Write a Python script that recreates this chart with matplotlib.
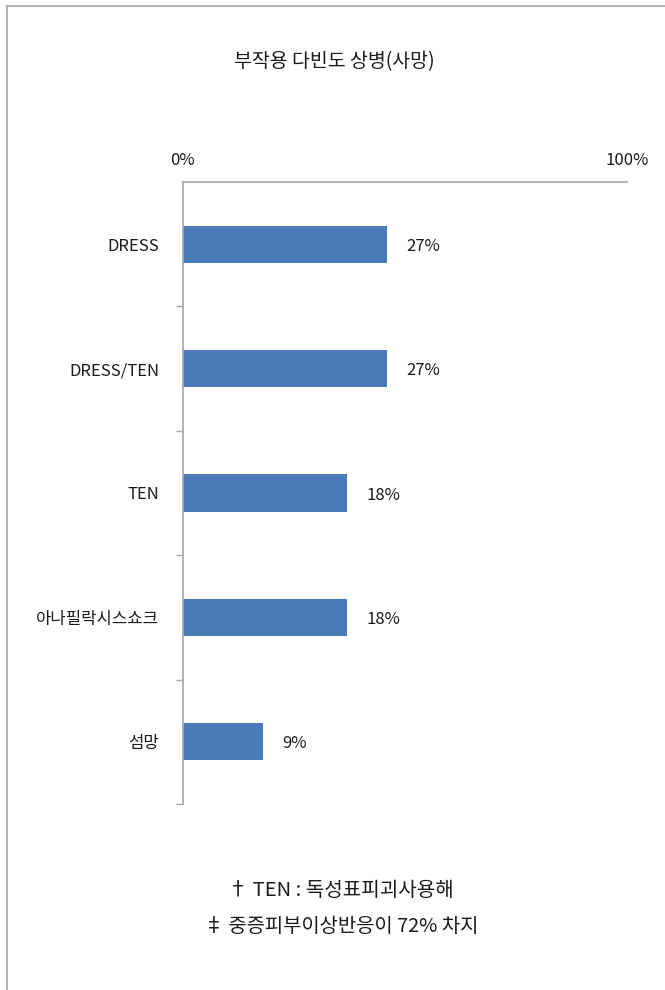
import matplotlib.pyplot as plt
from matplotlib.lines import Line2D

plt.rcParams['font.family'] = ['Noto Sans CJK KR', 'DejaVu Sans']

# 데이터
categories = ['DRESS', 'DRESS/TEN', 'TEN', '아나필락시스쇼크', '섬망']
bar_lengths = [46, 46, 37, 37, 18]          # 그림에서 읽은 막대 길이 (축 기준 %)
value_labels = ['27%', '27%', '18%', '18%', '9%']
x_ticks = [0, 100]
x_tick_labels = ['0%', '100%']

title = '부작용 다빈도 상병(사망)'
notes = ['† TEN : 독성표피괴사용해', '‡ 중증피부이상반응이 72% 차지']

bar_color = '#4a7bb8'
axis_color = '#a6a6a6'
text_color = '#1a1a1a'

fig = plt.figure(figsize=(6.65, 9.9), dpi=100)
ax = fig.add_axes([0.2747, 0.1879, 0.6677, 0.6283])

centers = [i + 0.5 for i in range(len(categories))]
ax.barh(centers, bar_lengths, height=0.30, color=bar_color)

for y, w, lab in zip(centers, bar_lengths, value_labels):
    ax.annotate(lab, (w, y), xytext=(14, -1.5), textcoords='offset points',
                va='center', ha='left', fontsize=12, color=text_color)

ax.set_xlim(0, 100)
ax.set_ylim(len(categories), 0)

# x축: 위쪽 눈금 라벨만
ax.xaxis.tick_top()
ax.set_xticks(x_ticks)
ax.set_xticklabels(x_tick_labels, fontsize=12, color=text_color)
ax.tick_params(axis='x', length=0, pad=9)

# y축: 경계에 눈금, 중앙에 라벨
ax.set_yticks(range(1, len(categories) + 1))
ax.set_yticklabels([])
ax.set_yticks(centers, minor=True)
ax.set_yticklabels(categories, minor=True, fontsize=12, color=text_color)
ax.tick_params(axis='y', which='major', length=5, color=axis_color, width=1)
ax.tick_params(axis='y', which='minor', length=0, pad=17)

for side in ['right', 'bottom']:
    ax.spines[side].set_visible(False)
for side in ['top', 'left']:
    ax.spines[side].set_color(axis_color)
    ax.spines[side].set_linewidth(1.2)

fig.text(0.502, 1 - 62 / 990, title, ha='center', va='center', fontsize=14, color=text_color)
fig.text(0.512, 1 - 890 / 990, notes[0], ha='center', va='center', fontsize=14.5, color=text_color)
fig.text(0.513, 1 - 926 / 990, notes[1], ha='center', va='center', fontsize=14.3, color=text_color)

# 바깥 테두리 (위, 왼쪽)
fig.add_artist(Line2D([7 / 665, 1], [1 - 6 / 990, 1 - 6 / 990], color=axis_color, lw=1.2))
fig.add_artist(Line2D([7 / 665, 7 / 665], [0, 1 - 6 / 990], color=axis_color, lw=1.2))

plt.savefig('out.png', dpi=100)
